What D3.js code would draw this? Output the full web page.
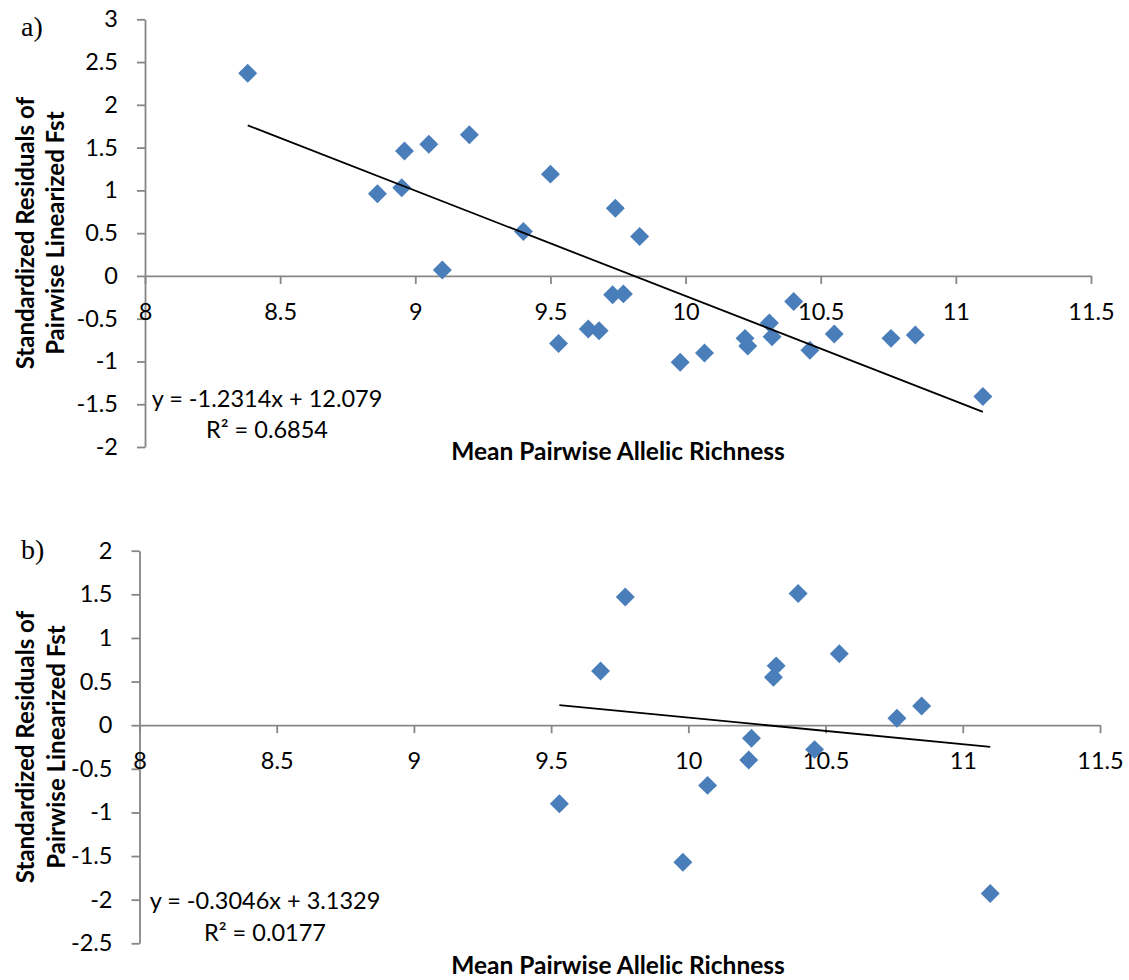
<!DOCTYPE html>
<html>
<head>
<meta charset="utf-8">
<script src="https://cdn.jsdelivr.net/npm/d3@7"></script>
<style>
  body { margin: 0; background: #fff; }
  svg { display: block; }
</style>
</head>
<body>
<svg id="chart" width="1129" height="980"></svg>
<script>
// ---- Panel a) : all population pairs ----
const richnessA = [8.38, 8.86, 8.95, 8.96, 9.05, 9.10, 9.20, 9.40, 9.50, 9.53,
                   9.64, 9.68, 9.73, 9.74, 9.77, 9.83, 9.98, 10.07, 10.22, 10.23,
                   10.31, 10.32, 10.40, 10.46, 10.55, 10.76, 10.85, 11.10];
const residualsA = [2.37, 0.96, 1.03, 1.46, 1.54, 0.07, 1.65, 0.52, 1.19, -0.79,
                    -0.62, -0.64, -0.22, 0.79, -0.21, 0.46, -1.01, -0.90, -0.73, -0.82,
                    -0.55, -0.71, -0.30, -0.87, -0.68, -0.73, -0.69, -1.41];
const slopeA = -1.2314, interceptA = 12.079, r2A = 0.6854;

// ---- Panel b) : subset of population pairs ----
const richnessB = [9.53, 9.68, 9.77, 9.98, 10.07, 10.22, 10.23, 10.31, 10.32, 10.40,
                   10.46, 10.55, 10.76, 10.85, 11.10];
const residualsB = [-0.90, 0.62, 1.47, -1.57, -0.69, -0.40, -0.15, 0.55, 0.68, 1.51,
                    -0.28, 0.82, 0.08, 0.22, -1.93];
const slopeB = -0.3046, interceptB = 3.1329, r2B = 0.0177;

// ---- Shared axis ticks and labels ----
const xTicks = [8, 8.5, 9, 9.5, 10, 10.5, 11, 11.5];
const yTicksA = [-2, -1.5, -1, -0.5, 0, 0.5, 1, 1.5, 2, 2.5, 3];
const yTicksB = [-2.5, -2, -1.5, -1, -0.5, 0, 0.5, 1, 1.5, 2];
const xTitle = "Mean Pairwise Allelic Richness";
const yTitleLines = ["Standardized Residuals of", "Pairwise Linearized Fst"];
const panelLabels = ["a)", "b)"];

const svg = d3.select("#chart");
const AXIS_COLOR = "#868686";
const MARK_COLOR = "#4a7ebb";
const FONT = "Lato, 'Open Sans', sans-serif";
const TICK_FS = 23.5;

const panels = [
  { label: panelLabels[0], xs: richnessA, ys: residualsA, slope: slopeA, intercept: interceptA, r2: r2A,
    yTicks: yTicksA, left: 145, right: 1091, top: 19.3, bottom: 447,
    labelPos: [21, 36], eqPos: [267, 406.5], xTitleY: 460, yTitleX: [33.5, 64] },
  { label: panelLabels[1], xs: richnessB, ys: residualsB, slope: slopeB, intercept: interceptB, r2: r2B,
    yTicks: yTicksB, left: 139.5, right: 1100, top: 550.7, bottom: 943.3,
    labelPos: [21, 558.5], eqPos: [265, 909], xTitleY: 974, yTitleX: [33.5, 65] }
];

const fmt = d => String(d);

panels.forEach(p => {
  const g = svg.append("g");
  const x = d3.scaleLinear().domain([xTicks[0], xTicks[xTicks.length - 1]]).range([p.left, p.right]);
  const y = d3.scaleLinear().domain([p.yTicks[0], p.yTicks[p.yTicks.length - 1]]).range([p.bottom, p.top]);

  // vertical axis
  const yAxis = g.append("g")
    .attr("transform", `translate(${p.left},0)`)
    .call(d3.axisLeft(y).tickValues(p.yTicks).tickSize(8).tickSizeOuter(0).tickPadding(19).tickFormat(fmt));

  // horizontal axis crossing at zero
  const xAxis = g.append("g")
    .attr("transform", `translate(0,${y(0)})`)
    .call(d3.axisBottom(x).tickValues(xTicks).tickSize(8).tickSizeOuter(0).tickPadding(19.5).tickFormat(fmt));

  [yAxis, xAxis].forEach(a => {
    a.selectAll("path.domain, .tick line").attr("stroke", AXIS_COLOR).attr("stroke-width", 1.8);
    a.selectAll("text").attr("fill", "#000").style("font-family", FONT).style("font-size", TICK_FS + "px");
  });

  // data markers (diamonds)
  const diamond = d3.symbol().type(d3.symbolSquare).size(180);
  g.append("g").selectAll("path")
    .data(p.xs.map((v, i) => [v, p.ys[i]]))
    .join("path")
    .attr("d", diamond)
    .attr("transform", d => `translate(${x(d[0])},${y(d[1])}) rotate(45)`)
    .attr("fill", MARK_COLOR);

  // linear trendline over the data range
  const [xmin, xmax] = d3.extent(p.xs);
  const fit = v => p.slope * v + p.intercept;
  g.append("path")
    .attr("d", d3.line()([[x(xmin), y(fit(xmin))], [x(xmax), y(fit(xmax))]]))
    .attr("stroke", "#000").attr("stroke-width", 1.8).attr("fill", "none");

  // trendline equation and R²
  const eq = g.append("text")
    .attr("text-anchor", "middle")
    .style("font-family", FONT).style("font-size", "23.5px").attr("fill", "#000");
  eq.append("tspan").attr("x", p.eqPos[0]).attr("y", p.eqPos[1])
    .text(`y = ${fmt(p.slope)}x + ${fmt(p.intercept)}`);
  eq.append("tspan").attr("x", p.eqPos[0]).attr("y", p.eqPos[1] + 31.8)
    .text(`R² = ${p.r2.toFixed(4)}`);

  // axis titles
  g.append("text")
    .attr("x", 618).attr("y", p.xTitleY)
    .attr("text-anchor", "middle")
    .style("font-family", FONT).style("font-size", "24.5px").style("font-weight", "bold")
    .text(xTitle);

  const cy = (p.top + p.bottom) / 2;
  yTitleLines.forEach((line, i) => {
    g.append("text")
      .attr("transform", `translate(${p.yTitleX[i]},${cy}) rotate(-90)`)
      .attr("text-anchor", "middle")
      .style("font-family", FONT).style("font-size", "24px").style("font-weight", "bold")
      .text(line);
  });

  // panel letter
  g.append("text")
    .attr("x", p.labelPos[0]).attr("y", p.labelPos[1])
    .style("font-family", "'Liberation Serif', 'Times New Roman', serif")
    .style("font-size", "28px")
    .text(p.label);
});
</script>
</body>
</html>
